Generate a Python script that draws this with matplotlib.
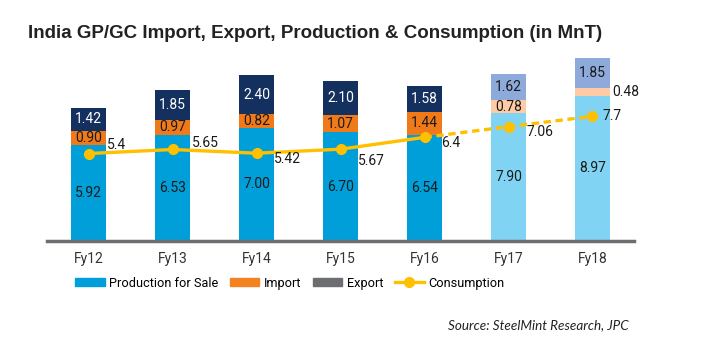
import matplotlib.pyplot as plt
from matplotlib.patches import Patch
from matplotlib.lines import Line2D

years = ["Fy12", "Fy13", "Fy14", "Fy15", "Fy16", "Fy17", "Fy18"]
production = [5.92, 6.53, 7.00, 6.70, 6.54, 7.90, 8.97]
imports = [0.90, 0.97, 0.82, 1.07, 1.44, 0.78, 0.48]
exports = [1.42, 1.85, 2.40, 2.10, 1.58, 1.62, 1.85]
consumption = [5.4, 5.65, 5.42, 5.67, 6.4, 7.06, 7.7]
n_actual = 5  # Fy12-Fy16 actual, Fy17-Fy18 estimates

prod_c = ["#009fda"] * n_actual + ["#80d3f3"] * 2
imp_c = ["#f07a1a"] * n_actual + ["#ffcba4"] * 2
exp_c = ["#13305e"] * n_actual + ["#8eaadb"] * 2
exp_txt = ["white"] * n_actual + ["#1a1a1a"] * 2
line_c = "#ffc000"

plt.rcParams["font.family"] = ["Roboto", "DejaVu Sans"]

fig = plt.figure(figsize=(7.18, 3.39), dpi=100)
ax = fig.add_axes([0.0648, 0.289, 0.8189, 0.5735])

x = list(range(len(years)))
w = 0.42
bottom_exp = [p + i for p, i in zip(production, imports)]
ax.bar(x, production, w, color=prod_c, zorder=2)
ax.bar(x, imports, w, bottom=production, color=imp_c, zorder=2)
ax.bar(x, exports, w, bottom=bottom_exp, color=exp_c, zorder=2)

lab_fs = 10
for i in x:
    ax.text(i, production[i] / 2, f"{production[i]:.2f}", ha="center", va="center",
            fontsize=lab_fs, color="#1a1a1a", zorder=4)
    if i == 6:
        ax.text(i + w / 2 + 0.03, production[i] + imports[i] / 2, f"{imports[i]:.2f}",
                ha="left", va="center", fontsize=lab_fs, color="#1a1a1a", zorder=4)
    else:
        ax.text(i, production[i] + imports[i] / 2, f"{imports[i]:.2f}", ha="center",
                va="center", fontsize=lab_fs, color="#1a1a1a", zorder=4)
    ax.text(i, bottom_exp[i] + exports[i] / 2, f"{exports[i]:.2f}", ha="center",
            va="center", fontsize=lab_fs, color=exp_txt[i], zorder=4)

# consumption: solid for actuals, dashed for estimates
ax.plot(x[:n_actual], consumption[:n_actual], color=line_c, lw=2.4, zorder=3,
        solid_capstyle="round")
ax.plot(x[n_actual - 1:], consumption[n_actual - 1:], color=line_c, lw=2.4,
        ls=(0, (2.2, 1.4)), zorder=3)
ax.plot(x, consumption, "o", color=line_c, ms=7, zorder=3)

offsets = [(0.22, 0.55), (0.23, 0.37), (0.21, -0.37), (0.21, -0.74), (0.2, -0.37),
           (0.21, -0.32), (0.12, 0.0)]
for i, (dx, dy) in enumerate(offsets):
    ax.text(i + dx, consumption[i] + dy, f"{consumption[i]:g}", ha="left",
            va="center", fontsize=lab_fs, color="#1a1a1a", zorder=4)

ax.set_xlim(-0.5, 6.5)
ax.set_ylim(0, 12)
ax.set_xticks(x)
ax.set_xticklabels(years, fontsize=10, color="#333333")
ax.tick_params(axis="x", length=0, pad=8)
ax.set_yticks([])
for s in ["top", "right", "left"]:
    ax.spines[s].set_visible(False)
ax.spines["bottom"].set_color("#6d6e71")
ax.spines["bottom"].set_linewidth(2.5)

fig.text(0.039, 0.9, "India GP/GC Import, Export, Production & Consumption (in MnT)",
         fontsize=13.5, fontweight="bold", color="#222222", va="center",
         family=["Liberation Sans", "DejaVu Sans"])

handles = [
    Patch(color="#009fda"),
    Patch(color="#f58220"),
    Patch(color="#6d6e71"),
    Line2D([], [], color=line_c, lw=2.4, marker="o", ms=7),
]
labels = ["Production for Sale", "Import", "Export", "Consumption"]
fig.legend(handles, labels, loc="center left", bbox_to_anchor=(0.105, 0.165), ncol=4,
           frameon=False, fontsize=9.2, handlelength=2.3, handleheight=0.55,
           handletextpad=0.35, columnspacing=0.9, borderaxespad=0, borderpad=0)

fig.text(0.875, 0.04, "Source: SteelMint Research, JPC", ha="right", va="center",
         fontsize=9.7, style="italic", color="#222222", family=["Lato", "DejaVu Sans"])

fig.savefig("out.png", dpi=100)
